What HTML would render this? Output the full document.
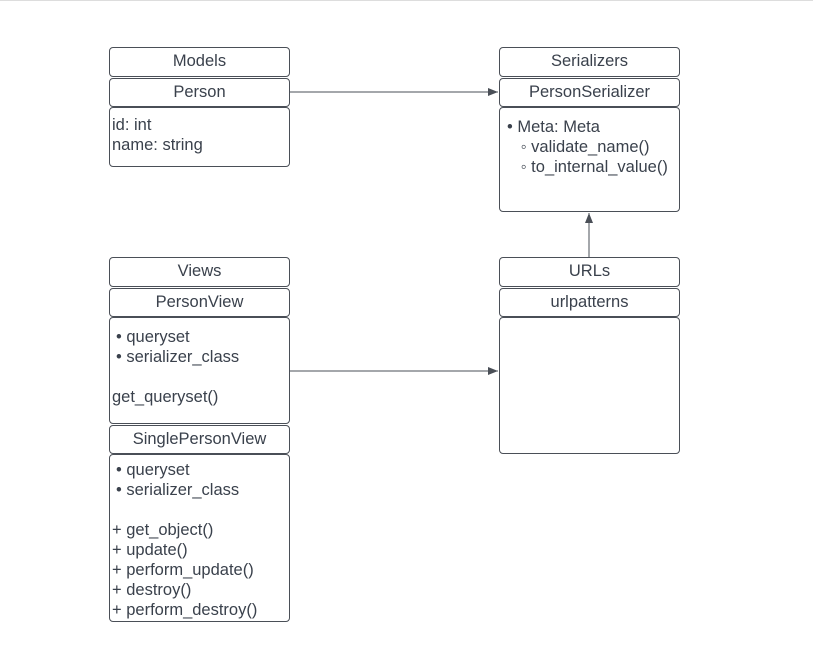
<!DOCTYPE html>
<html><head><style>
body{margin:0;width:813px;height:652px;background:#fff;position:relative;overflow:hidden;font-family:"Liberation Sans",sans-serif;color:#3a414c;font-size:16.5px}
.b{position:absolute;border:1px solid #4a4f57;border-radius:4px;box-sizing:border-box;background:#fff}
.c{text-align:center;line-height:27px}
.t{position:absolute;white-space:pre;line-height:20px}
</style></head><body>
<div style="position:absolute;left:0;top:0;width:813px;height:1px;background:#ddd"></div>
<svg width="813" height="652" style="position:absolute;left:0;top:0">
<defs><marker id="a" markerWidth="10" markerHeight="8" refX="10" refY="4" orient="auto" markerUnits="userSpaceOnUse"><path d="M0,0L10,4L0,8z" fill="#4a4f57"/></marker></defs>
<line x1="289" y1="92" x2="498" y2="92" stroke="#4a4f57" stroke-width="1" marker-end="url(#a)"/>
<line x1="589" y1="257" x2="589" y2="213" stroke="#4a4f57" stroke-width="1" marker-end="url(#a)"/>
<line x1="289" y1="371" x2="498" y2="371" stroke="#4a4f57" stroke-width="1" marker-end="url(#a)"/>
</svg>
<div class="b c" style="left:109px;top:47px;width:181px;height:30px">Models</div>
<div class="b c" style="left:109px;top:78px;width:181px;height:29px">Person</div>
<div class="b" style="left:109px;top:107px;width:181px;height:60px"></div>
<div class="t" style="left:112px;top:115px">id: int
name: string</div>

<div class="b c" style="left:499px;top:47px;width:181px;height:30px">Serializers</div>
<div class="b c" style="left:499px;top:78px;width:181px;height:29px">PersonSerializer</div>
<div class="b" style="left:499px;top:107px;width:181px;height:105px"></div>
<div class="t" style="left:507px;top:117px">• Meta: Meta
   ◦ validate_name()
   ◦ to_internal_value()</div>

<div class="b c" style="left:109px;top:257px;width:181px;height:30px">Views</div>
<div class="b c" style="left:109px;top:288px;width:181px;height:29px">PersonView</div>
<div class="b" style="left:109px;top:317px;width:181px;height:107px"></div>
<div class="t" style="left:116px;top:327px">• queryset
• serializer_class</div>
<div class="t" style="left:112px;top:387px">get_queryset()</div>
<div class="b c" style="left:109px;top:425px;width:181px;height:29px">SinglePersonView</div>
<div class="b" style="left:109px;top:454px;width:181px;height:168px"></div>
<div class="t" style="left:116px;top:460px">• queryset
• serializer_class</div>
<div class="t" style="left:112px;top:520px">+ get_object()
+ update()
+ perform_update()
+ destroy()
+ perform_destroy()</div>

<div class="b c" style="left:499px;top:257px;width:181px;height:30px">URLs</div>
<div class="b c" style="left:499px;top:288px;width:181px;height:29px">urlpatterns</div>
<div class="b" style="left:499px;top:317px;width:181px;height:137px"></div>
</body></html>
